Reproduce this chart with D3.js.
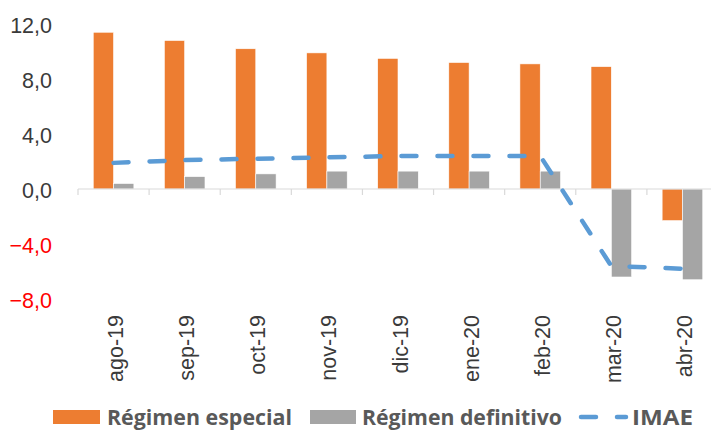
<html lang="es">
<head>
<meta charset="utf-8">
<title>Régimen especial / definitivo / IMAE</title>
<script src="https://d3js.org/d3.v7.min.js"></script>
<style>
  body { margin: 0; background: #fff; }
</style>
</head>
<body>
<div id="chart"></div>
<script>
// data
var months = ["ago-19", "sep-19", "oct-19", "nov-19", "dic-19", "ene-20", "feb-20", "mar-20", "abr-20"];
var especial = [11.4, 10.8, 10.2, 9.9, 9.5, 9.2, 9.1, 8.9, -2.3];
var definitivo = [0.4, 0.9, 1.1, 1.3, 1.3, 1.3, 1.3, -6.4, -6.6];
var imae = [1.9, 2.1, 2.2, 2.3, 2.4, 2.4, 2.4, -5.6, -5.8];
var yTicks = [12, 8, 4, 0, -4, -8];

var W = 711, H = 431;
var svg = d3.select("#chart").append("svg")
  .attr("width", W).attr("height", H);

var axisFont = "'Liberation Sans', Arial, sans-serif";

// scales
var x = d3.scaleBand().domain(months).range([78, 718]).paddingInner(0).paddingOuter(0);
var y = d3.scaleLinear().domain([-8, 12]).range([299, 24]);
var bw = x.bandwidth() / 3.5;   // excel gap width 150%

var orange = "#ED7D31", grey = "#A5A5A5", blue = "#5B9BD5";

// y labels
svg.append("g").selectAll("text")
  .data(yTicks).enter().append("text")
  .attr("x", 52)
  .attr("y", function(d) { return y(d) + 2; })
  .attr("text-anchor", "end")
  .attr("dominant-baseline", "central")
  .style("font-family", axisFont)
  .attr("font-size", 21.5)
  .attr("fill", function(d) { return d < 0 ? "#FF0000" : "#3a3a3a"; })
  .text(function(d) { return d3.format(".1f")(d).replace(".", ","); });

// bars
var bars = svg.append("g");
bars.selectAll(".esp").data(especial).enter().append("rect")
  .attr("x", function(d, i) { return x(months[i]) + x.bandwidth() / 2 - bw; })
  .attr("y", function(d) { return y(Math.max(0, d)); })
  .attr("width", bw)
  .attr("height", function(d) { return Math.abs(y(d) - y(0)); })
  .attr("fill", orange).attr("stroke", "#fff").attr("stroke-width", 0.6);
bars.selectAll(".def").data(definitivo).enter().append("rect")
  .attr("x", function(d, i) { return x(months[i]) + x.bandwidth() / 2; })
  .attr("y", function(d) { return y(Math.max(0, d)); })
  .attr("width", bw)
  .attr("height", function(d) { return Math.abs(y(d) - y(0)); })
  .attr("fill", grey).attr("stroke", "#fff").attr("stroke-width", 0.6);

// x axis line + ticks between categories
var axis = svg.append("g");
axis.append("line")
  .attr("x1", x.range()[0]).attr("x2", W)
  .attr("y1", y(0)).attr("y2", y(0))
  .attr("stroke", "#d9d9d9").attr("stroke-width", 1.2);
axis.selectAll(".tk").data(months).enter().append("line")
  .attr("x1", function(d) { return x(d); }).attr("x2", function(d) { return x(d); })
  .attr("y1", y(0)).attr("y2", y(0) + 6)
  .attr("stroke", "#d9d9d9").attr("stroke-width", 1.2);

// month labels, rotated
axis.selectAll(".lbl").data(months).enter().append("text")
  .attr("transform", function(d) {
    return "translate(" + (x(d) + x.bandwidth() / 2 + 9.5) + ",315) rotate(-90)";
  })
  .attr("text-anchor", "end")
  .style("font-family", axisFont)
  .attr("font-size", 21.5)
  .attr("fill", "#3a3a3a")
  .text(function(d) { return d; });

// IMAE dashed line
var line = d3.line()
  .x(function(d, i) { return x(months[i]) + x.bandwidth() / 2; })
  .y(function(d) { return y(d); });
svg.append("path")
  .datum(imae)
  .attr("d", line)
  .attr("fill", "none")
  .attr("stroke", blue)
  .attr("stroke-width", 4.5)
  .attr("stroke-linecap", "round")
  .attr("stroke-dasharray", "15,21");

// legend
var lg = svg.append("g").style("font-family", "'Open Sans', sans-serif")
  .attr("font-size", 21).attr("font-weight", 700).attr("fill", "#595959");
lg.append("rect").attr("x", 53).attr("y", 410).attr("width", 47).attr("height", 14).attr("fill", orange);
lg.append("text").attr("x", 107).attr("y", 424.5).attr("textLength", 185)
  .attr("lengthAdjust", "spacingAndGlyphs").text("Régimen especial");
lg.append("rect").attr("x", 310).attr("y", 410).attr("width", 46).attr("height", 14).attr("fill", grey);
lg.append("text").attr("x", 362).attr("y", 424.5).attr("textLength", 200)
  .attr("lengthAdjust", "spacingAndGlyphs").text("Régimen definitivo");
lg.append("line").attr("x1", 581).attr("x2", 626).attr("y1", 417).attr("y2", 417)
  .attr("stroke", blue).attr("stroke-width", 4.5).attr("stroke-linecap", "round")
  .attr("stroke-dasharray", "15,21");
lg.append("text").attr("x", 632).attr("y", 424.5).attr("textLength", 61)
  .attr("lengthAdjust", "spacingAndGlyphs").text("IMAE");
</script>
</body>
</html>
